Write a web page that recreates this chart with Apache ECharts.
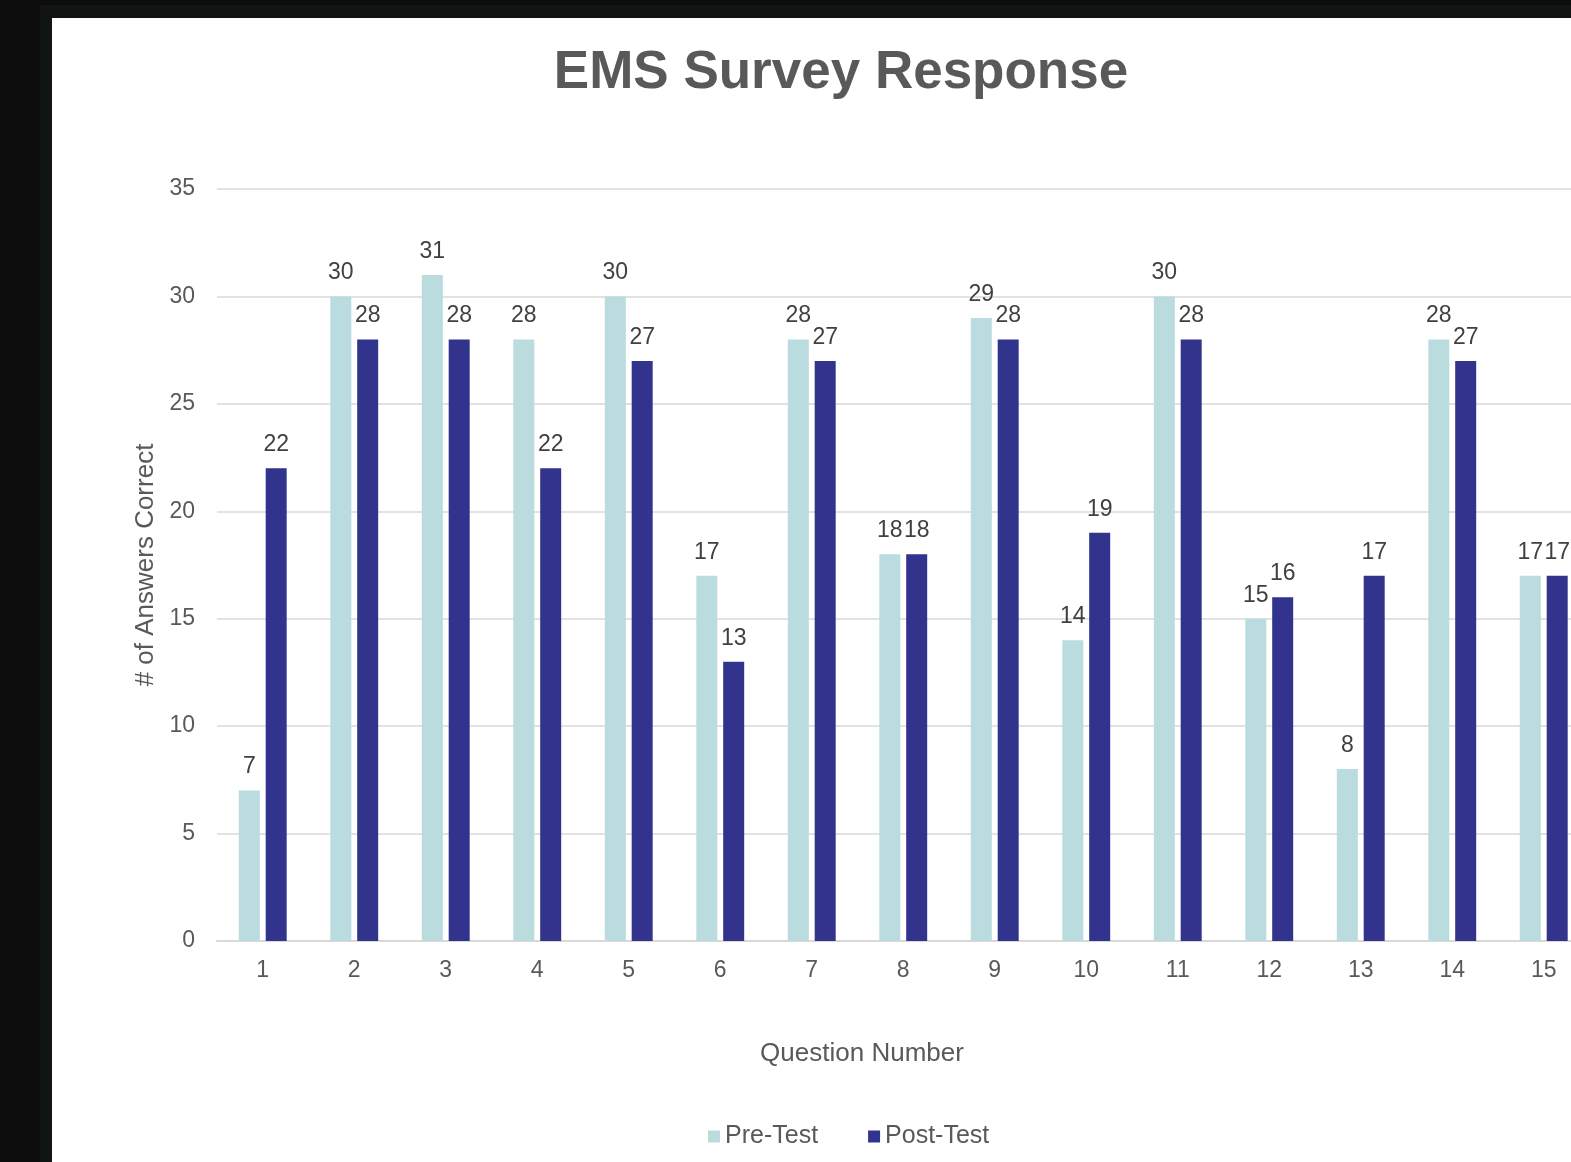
<!DOCTYPE html>
<html>
<head>
<meta charset="utf-8">
<script src="https://cdn.jsdelivr.net/npm/echarts@6/dist/echarts.min.js"></script>
<style>
  html, body { margin: 0; padding: 0; width: 1571px; height: 1162px; overflow: hidden; background: #0d0d0d; }
  #frame { position: absolute; left: 40px; top: 5px; width: 1600px; height: 1200px; background: #101415; }
  #chart { position: absolute; left: 52px; top: 18px; width: 1560px; height: 1144px; background: #fff; }
</style>
</head>
<body>
<div id="frame"></div>
<div id="chart"></div>
<script>
const questions = ["1", "2", "3", "4", "5", "6", "7", "8", "9", "10", "11", "12", "13", "14", "15"];
const preTest = [7, 30, 31, 28, 30, 17, 28, 18, 29, 14, 30, 15, 8, 28, 17];
const postTest = [22, 28, 28, 22, 27, 13, 27, 18, 28, 19, 28, 16, 17, 27, 17];

const FONT = '"Liberation Sans", Arial, Helvetica, sans-serif';
const gray = "#595959";

const chart = echarts.init(document.getElementById("chart"));

const barLabel = {
  show: true,
  position: "top",
  distance: 12,
  fontFamily: FONT,
  fontSize: 23,
  color: "#404040",
};

chart.setOption({
  animation: false,
  backgroundColor: "#fff",
  textStyle: { fontFamily: FONT },
  graphic: [
    {
      type: "text",
      x: 789,
      y: 55,
      style: {
        text: "EMS Survey Response",
        font: 'bold 53px "Liberation Sans", Arial, sans-serif',
        fill: gray,
        align: "center",
        textAlign: "center",
        verticalAlign: "middle",
        textVerticalAlign: "middle",
      },
    },
    {
      type: "text",
      x: 810,
      y: 1036,
      style: {
        text: "Question Number",
        font: '26px "Liberation Sans", Arial, sans-serif',
        fill: gray,
        align: "center",
        textAlign: "center",
        verticalAlign: "middle",
        textVerticalAlign: "middle",
      },
    },
  ],
  legend: {
    left: 651,
    top: 1101,
    icon: "rect",
    itemWidth: 12,
    itemHeight: 12,
    itemGap: 50,
    textStyle: { fontFamily: FONT, fontSize: 25, color: gray },
    data: ["Pre-Test", "Post-Test"],
  },
  grid: { left: 165, top: 171, right: 22.5, bottom: 221, containLabel: false },
  xAxis: {
    type: "category",
    data: questions,
    axisTick: { show: false },
    axisLine: { lineStyle: { color: "#d9d9d9", width: 2 } },
    axisLabel: { color: gray, fontSize: 23, fontFamily: FONT, margin: 18 },
  },
  yAxis: {
    type: "value",
    min: 0,
    max: 35,
    interval: 5,
    name: "# of Answers Correct",
    nameLocation: "middle",
    nameGap: 58,
    nameRotate: 90,
    nameTextStyle: { color: gray, fontSize: 26, fontFamily: FONT },
    axisLine: { show: false },
    axisTick: { show: false },
    axisLabel: { color: gray, fontSize: 23, fontFamily: FONT, margin: 22 },
    splitLine: { lineStyle: { color: "#d9d9d9", width: 1.5 } },
  },
  series: [
    {
      name: "Pre-Test",
      type: "bar",
      data: preTest,
      barWidth: 21,
      barGap: "28%",
      itemStyle: { color: "#badcdf" },
      label: barLabel,
    },
    {
      name: "Post-Test",
      type: "bar",
      data: postTest,
      barWidth: 21,
      itemStyle: { color: "#31338c" },
      label: barLabel,
    },
  ],
});
</script>
</body>
</html>
